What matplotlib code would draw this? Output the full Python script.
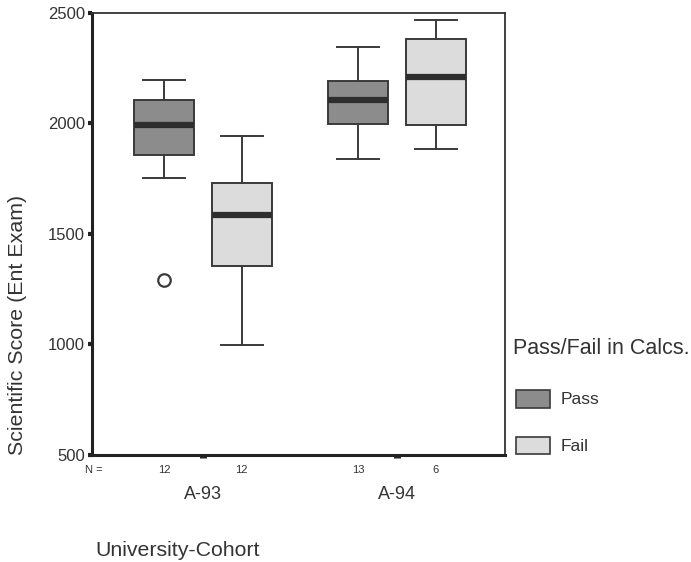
import matplotlib
matplotlib.use("Agg")
import matplotlib.pyplot as plt
from matplotlib.patches import Patch

plt.rcParams['font.family'] = ['Liberation Sans', 'DejaVu Sans']

cohorts = ["A-93", "A-94"]
groups = ["Pass", "Fail"]
group_colors = ["#8c8c8c", "#dcdcdc"]

# five-number summaries per cohort, per group
pass_whislo = [1755, 1841]
pass_q1 = [1859, 1999]
pass_med = [1994, 2107]
pass_q3 = [2107, 2193]
pass_whishi = [2197, 2346]
pass_fliers = [[1290], []]
pass_n = [12, 13]

fail_whislo = [996, 1886]
fail_q1 = [1357, 1994]
fail_med = [1588, 2210]
fail_q3 = [1732, 2383]
fail_whishi = [1945, 2468]
fail_fliers = [[], []]
fail_n = [12, 6]

yticks = [500, 1000, 1500, 2000, 2500]

TXT = "#333333"
EDGE = "#3a3a3a"

fig = plt.figure(figsize=(6.91, 5.62), dpi=100)
ax = fig.add_axes([0.1331, 0.1904, 0.5977, 0.7865])

offset = 0.2
width = 0.31
series = [
    (pass_whislo, pass_q1, pass_med, pass_q3, pass_whishi, pass_fliers, pass_n, -offset, group_colors[0]),
    (fail_whislo, fail_q1, fail_med, fail_q3, fail_whishi, fail_fliers, fail_n, offset, group_colors[1]),
]
for lo, q1, med, q3, hi, fl, n, off, col in series:
    stats = []
    for i in range(len(cohorts)):
        stats.append(dict(whislo=lo[i], q1=q1[i], med=med[i], q3=q3[i],
                          whishi=hi[i], fliers=fl[i]))
    pos = [i + off for i in range(len(cohorts))]
    ax.bxp(stats, positions=pos, widths=width, patch_artist=True,
           showcaps=True, manage_ticks=False,
           boxprops=dict(facecolor=col, edgecolor=EDGE, linewidth=1.4),
           medianprops=dict(color="#2e2e2e", linewidth=4.5),
           whiskerprops=dict(color=EDGE, linewidth=1.4),
           capprops=dict(color=EDGE, linewidth=1.4),
           flierprops=dict(marker="o", markersize=9, markerfacecolor="white",
                           markeredgecolor=EDGE, markeredgewidth=1.6),
           capwidths=width * 0.7)
    for i in range(len(cohorts)):
        ax.text(i + off, -0.034, str(n[i]), transform=ax.get_xaxis_transform(),
                ha="center", va="center", fontsize=8, color=TXT)

ax.text(-0.61, -0.034, "N =", transform=ax.get_xaxis_transform(),
        ha="left", va="center", fontsize=8, color=TXT)

ax.set_xlim(-0.572, 1.557)
ax.set_ylim(500, 2500)
ax.set_yticks(yticks)
ax.set_yticklabels([str(v) for v in yticks], fontsize=12, color=TXT)
ax.set_xticks(range(len(cohorts)))
ax.set_xticklabels([])
for i, c in enumerate(cohorts):
    ax.text(i, -0.09, c, transform=ax.get_xaxis_transform(),
            ha="center", va="center", fontsize=13, color=TXT)

ax.tick_params(axis="y", length=3, width=3, direction="out", color="#222222", pad=2)
ax.tick_params(axis="x", length=1.8, width=5, direction="out", color="#222222")
for side in ["left", "bottom"]:
    ax.spines[side].set_linewidth(2.2)
    ax.spines[side].set_color("#222222")
for side in ["top", "right"]:
    ax.spines[side].set_linewidth(1.3)
    ax.spines[side].set_color(TXT)

fig.text(18 / 691, 1 - 325 / 562, "Scientific Score (Ent Exam)", rotation=90,
         fontsize=15.4, color=TXT, ha="center", va="center")
fig.text(95 / 691, 1 - 550 / 562, "University-Cohort", fontsize=15.3, color=TXT,
         ha="left", va="center")

fig.text(513 / 691, 1 - 348 / 562, "Pass/Fail in Calcs.", fontsize=15.5,
         color=TXT, ha="left", va="center")
handles = [Patch(facecolor=group_colors[k], edgecolor=EDGE, linewidth=1.2, label=g)
           for k, g in enumerate(groups)]
leg = fig.legend(handles=handles, loc="upper left",
                 bbox_to_anchor=(514 / 691, 1 - 388 / 562), frameon=False, fontsize=12.5,
                 handlelength=2.0, handleheight=1.2, handletextpad=0.6,
                 labelspacing=1.68, borderpad=0.1, borderaxespad=0)
for t in leg.get_texts():
    t.set_color(TXT)

fig.savefig("out.png", dpi=100)
